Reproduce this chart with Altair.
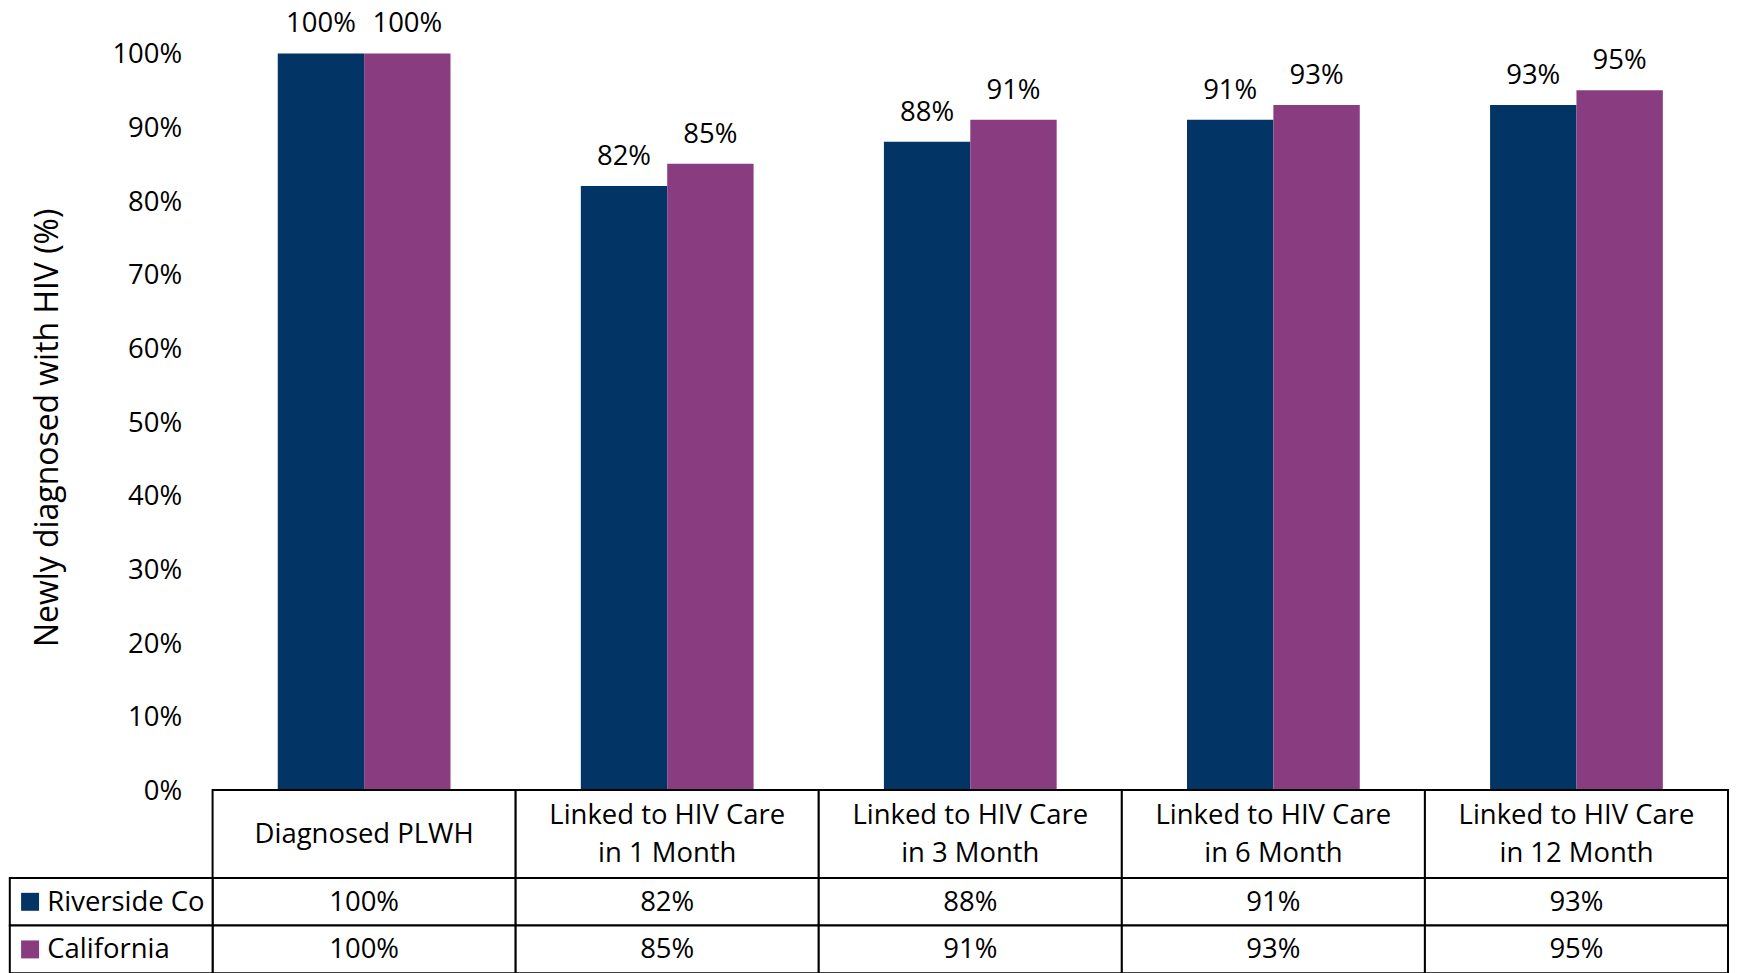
import altair as alt
import pandas as pd

# ---- data ----
categories = [
    "Diagnosed PLWH",
    "Linked to HIV Care\nin 1 Month",
    "Linked to HIV Care\nin 3 Month",
    "Linked to HIV Care\nin 6 Month",
    "Linked to HIV Care\nin 12 Month",
]
series_names = ["Riverside Co", "California"]
riverside = [100, 82, 88, 91, 93]
california = [100, 85, 91, 93, 95]
colors = ["#033466", "#893C80"]
y_ticks = [0, 10, 20, 30, 40, 50, 60, 70, 80, 90, 100]
y_title = "Newly diagnosed with HIV (%)"

rows = []
for s, vals in zip(series_names, [riverside, california]):
    for c, v in zip(categories, vals):
        rows.append({"cat": c, "series": s, "value": v, "label": f"{v}%"})
df = pd.DataFrame(rows)
hdr_df = pd.DataFrame({
    "cat": categories,
    "hdr": ["header"] * len(categories),
    "lines": [c.count("\n") + 1 for c in categories],
})
leg_df = pd.DataFrame({"series": series_names, "col": ["legend"] * len(series_names)})

# ---- layout ----
W = 1518.5
H = 738
HDR_RANGE = [738, 826.3]
ROW_RANGE = [826.3, 921.7]
LEG_RANGE = [-203.2, 0]
FONT = "Open Sans"
FS = 27.5
LH = 37.7

# ---- bars + labels ----
x_bar = alt.X("cat:N", sort=categories,
              scale=alt.Scale(paddingInner=0.43, paddingOuter=0.215), axis=None)
x_off = alt.XOffset("series:N", sort=series_names)
y_bar = alt.Y(
    "value:Q",
    scale=alt.Scale(domain=[0, 100]),
    axis=alt.Axis(
        values=y_ticks, labelExpr="datum.value + '%'", grid=False, ticks=False,
        domain=False, labelPadding=31, labelFontSize=FS, labelFont=FONT,
        labelColor="black", labelOffset=1.5, title=y_title, titleFont=FONT,
        titleFontSize=32, titleFontWeight="normal", titleColor="black",
        titlePadding=47, titleY=374.7,
    ),
)
color = alt.Color("series:N", sort=series_names,
                  scale=alt.Scale(domain=series_names, range=colors), legend=None)

bars = alt.Chart(df).mark_bar().encode(x=x_bar, xOffset=x_off, y=y_bar, color=color)
bar_labels = alt.Chart(df).mark_text(
    dy=-29, baseline="middle", fontSize=FS, font=FONT, color="black"
).encode(x=x_bar, xOffset=x_off, y=y_bar, text="label:N")
plot = alt.layer(bars, bar_labels)

# ---- table header ----
x_tab = alt.X("cat:N", sort=categories,
              scale=alt.Scale(paddingInner=0, paddingOuter=0), axis=None)
y_hdr = alt.Y("hdr:N", scale=alt.Scale(range=HDR_RANGE, paddingInner=0, paddingOuter=0), axis=None)
hdr_cells = alt.Chart(hdr_df).mark_rect(fill="white", stroke="black", strokeWidth=2).encode(
    x=x_tab, y=y_hdr)
hdr_text_two = alt.Chart(hdr_df).transform_filter(alt.datum.lines == 2).mark_text(
    fontSize=FS, font=FONT, color="black", lineBreak="\n", lineHeight=LH,
    baseline="middle", dy=-LH / 2 + 1
).encode(x=x_tab, y=y_hdr, text="cat:N")
hdr_text_one = alt.Chart(hdr_df).transform_filter(alt.datum.lines == 1).mark_text(
    fontSize=FS, font=FONT, color="black", baseline="middle", dy=1
).encode(x=x_tab, y=y_hdr, text="cat:N")
header = alt.layer(hdr_cells, hdr_text_two, hdr_text_one)

# ---- table rows ----
y_row = alt.Y("series:N", sort=series_names,
              scale=alt.Scale(range=ROW_RANGE, paddingInner=0, paddingOuter=0), axis=None)
row_cells = alt.Chart(df).mark_rect(fill="white", stroke="black", strokeWidth=2).encode(
    x=x_tab, y=y_row)
row_text = alt.Chart(df).mark_text(
    fontSize=FS, font=FONT, color="black", baseline="middle", dy=1
).encode(x=x_tab, y=y_row, text="label:N")
table_rows = alt.layer(row_cells, row_text)

# ---- legend column ----
x_leg_scale = alt.Scale(range=LEG_RANGE, paddingInner=0, paddingOuter=0)
leg_cells = alt.Chart(leg_df).mark_rect(fill="white", stroke="black", strokeWidth=2).encode(
    x=alt.X("col:N", scale=x_leg_scale, axis=None), y=y_row)
swatches = alt.Chart(leg_df).mark_point(
    shape="square", filled=True, size=324, opacity=1, strokeWidth=0
).encode(x=alt.X("col:N", bandPosition=0.1, scale=x_leg_scale, axis=None), y=y_row, color=color)
leg_text = alt.Chart(leg_df).mark_text(
    align="left", baseline="middle", fontSize=FS, font=FONT, color="black", dy=1
).encode(x=alt.X("col:N", bandPosition=0.185, scale=x_leg_scale, axis=None), y=y_row,
         text="series:N")
legend_col = alt.layer(leg_cells, swatches, leg_text)

chart = alt.layer(plot, header, table_rows, legend_col).resolve_scale(
    x="independent", y="independent"
).properties(
    width=W, height=H,
    padding={"top": 1.5, "left": 0, "right": 0, "bottom": 0},
).configure_view(stroke=None)

chart.save("out.html", embed_options={"renderer": "svg", "actions": False})
